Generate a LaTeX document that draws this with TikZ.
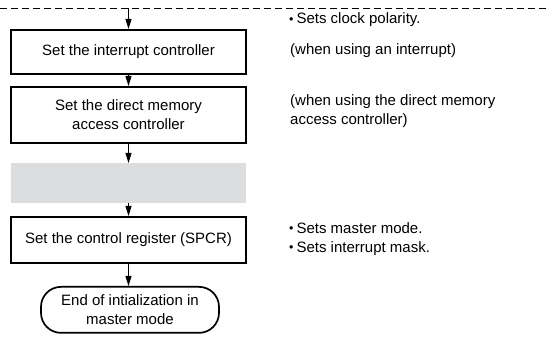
\documentclass[tikz,border=0pt]{standalone}
\usepackage{fontspec}
\setmainfont{Liberation Sans}
\usetikzlibrary{arrows.meta}
\newcommand{\smbul}{{\fontsize{12.5}{12}\selectfont\raisebox{0.8pt}{\textbullet}}\hspace{3pt}}
\begin{document}
\begin{tikzpicture}[x=1pt,y=-1pt,
  every node/.style={font=\fontsize{15}{18.5}\selectfont, inner sep=0pt, align=center},
  stepbox/.style={draw, line width=1.7pt, minimum width=235pt, anchor=north},
  note/.style={anchor=west, align=left},
  conn/.style={line width=0.8pt, -{Triangle[width=6pt,length=10pt]}}]
\useasboundingbox (0,0) rectangle (547,339);
\coordinate (top) at (128.5,8);
\draw[line width=0.8pt, dash pattern=on 6.5pt off 4.5pt] (0,8) -- (547,8);
\node[stepbox, minimum height=44pt] (b1) at (128.5,29) {Set the interrupt controller};
\node[stepbox, minimum height=56pt] (b2) at (128.5,86) {Set the direct memory\\access controller};
\node[fill={rgb,255:red,220;green,221;blue,223}, minimum width=235pt, minimum height=40pt, anchor=north] (g) at (128.5,163) {};
\node[stepbox, minimum height=46pt] (b3) at (128.5,216) {Set the control register (SPCR)};
\node[draw, line width=1.7pt, rounded corners=20pt, minimum width=178pt, minimum height=46pt, anchor=north] (t) at (130,286) {End of intialization in\\master mode};
\draw[conn] (top) -- (b1);
\draw[conn] (b1) -- (b2);
\draw[conn] (b2) -- (g);
\draw[conn] (g) -- (b3);
\draw[conn] (b3.south) -- (b3.south |- t.north);
\node[note] (n1) at (289,20) {\smbul Sets clock polarity.};
\node[note] (n2) at (290,51) {(when using an interrupt)};
\node[note] (n3) at (290,111) {(when using the direct memory\\access controller)};
\node[note] (n4) at (289,239) {\smbul Sets master mode.\\\smbul Sets interrupt mask.};
\end{tikzpicture}
\end{document}
